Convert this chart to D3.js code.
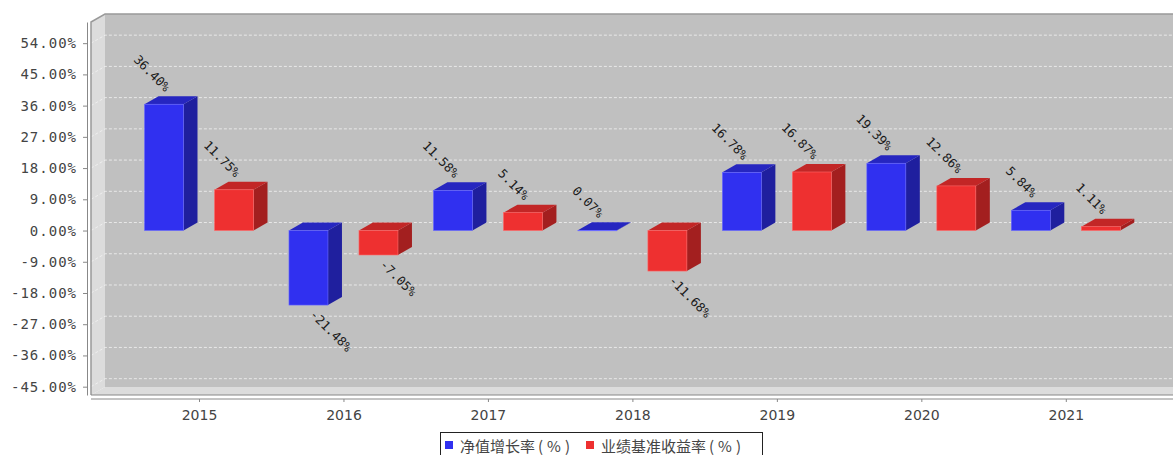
<!DOCTYPE html>
<html>
<head>
<meta charset="utf-8">
<script src="https://cdn.jsdelivr.net/npm/d3@7/dist/d3.min.js"></script>
<style>
  body { margin: 0; background: #fff; }
  svg { display: block; }
</style>
</head>
<body>
<svg id="chart" width="1173" height="455"></svg>
<script>
// Data
const years = ["2015", "2016", "2017", "2018", "2019", "2020", "2021"];
const navGrowth = [36.40, -21.48, 11.58, 0.07, 16.78, 19.39, 5.84];
const benchmark = [11.75, -7.05, 5.14, -11.68, 16.87, 12.86, 1.11];
const yTicks = [-45, -36, -27, -18, -9, 0, 9, 18, 27, 36, 45, 54];
const seriesNames = ["净值增长率", "业绩基准收益率"];
const seriesUnit = "(%)";

// Layout
const frontLeft = 91, frontTop = 22, frontBottom = 395, rightEdge = 1190;
const dx = 14, dy = 8;
const barWidth = 39;
const barOffsets = [-54.5, 15.5];

const colors = [
    { front: "#3030f0", top: "#2626c0", side: "#1f1f9e", edge: "#6a6aff" },
    { front: "#ee3030", top: "#c22626", side: "#a31f1f", edge: "#ff6a6a" }
];

const svg = d3.select("#chart");

const yScale = d3.scaleLinear().domain([-47.4, 60.1]).range([frontBottom, frontTop]);
const xScale = d3.scalePoint().domain(years).range([199, 1065.8]);

// Walls
svg.append("rect")
    .attr("x", frontLeft + dx).attr("y", frontTop - dy)
    .attr("width", rightEdge - frontLeft - dx)
    .attr("height", frontBottom - frontTop)
    .attr("fill", "#c0c0c0");

svg.append("polygon")
    .attr("points", [[frontLeft, frontTop], [frontLeft + dx, frontTop - dy], [frontLeft + dx, frontBottom - dy], [frontLeft, frontBottom]].join(" "))
    .attr("fill", "#dcdcdc");

svg.append("polygon")
    .attr("points", [[frontLeft, frontBottom], [frontLeft + dx, frontBottom - dy], [rightEdge, frontBottom - dy], [rightEdge, frontBottom]].join(" "))
    .attr("fill", "#dcdcdc");

// Gridlines
svg.append("g")
    .selectAll("path")
    .data(yTicks)
    .enter().append("path")
    .attr("d", t => `M${frontLeft},${yScale(t)}L${frontLeft + dx},${yScale(t) - dy}L${rightEdge},${yScale(t) - dy}`)
    .attr("fill", "none")
    .attr("stroke", "#f2f2f2")
    .attr("stroke-width", 0.8)
    .attr("stroke-dasharray", "3,2");

// Outline
svg.append("path")
    .attr("d", `M${frontLeft},${frontBottom}L${frontLeft},${frontTop}L${frontLeft + dx},${frontTop - dy}L${rightEdge},${frontTop - dy}`)
    .attr("fill", "none")
    .attr("stroke", "#999")
    .attr("stroke-width", 1.5);

svg.append("line")
    .attr("x1", frontLeft).attr("x2", rightEdge)
    .attr("y1", frontBottom).attr("y2", frontBottom)
    .attr("stroke", "#888").attr("stroke-width", 1.2);

// Bars
const bars = [];
years.forEach((yr, i) => {
    [navGrowth[i], benchmark[i]].forEach((v, s) => {
        bars.push({ year: yr, value: v, series: s });
    });
});

const barGroups = svg.append("g")
    .selectAll("g")
    .data(bars)
    .enter().append("g");

barGroups.each(function (d) {
    const g = d3.select(this);
    const c = colors[d.series];
    const x0 = xScale(d.year) + barOffsets[d.series];
    const top = Math.min(yScale(d.value), yScale(0));
    const bottom = Math.max(yScale(d.value), yScale(0));
    const x1 = x0 + barWidth;

    g.append("polygon")
        .attr("points", [[x1, top], [x1 + dx, top - dy], [x1 + dx, bottom - dy], [x1, bottom]].join(" "))
        .attr("fill", c.side);

    g.append("polygon")
        .attr("points", [[x0, top], [x0 + dx, top - dy], [x1 + dx, top - dy], [x1, top]].join(" "))
        .attr("fill", c.top);

    g.append("rect")
        .attr("x", x0).attr("y", top)
        .attr("width", barWidth).attr("height", Math.max(bottom - top, 0.5))
        .attr("fill", c.front)
        .attr("stroke", c.edge)
        .attr("stroke-width", 0.6);

    // Item label
    const cx = x0 + barWidth / 2;
    const positive = d.value >= 0;
    const lx = cx + 4;
    const ly = positive ? top - 15 : bottom + 7;
    g.append("text")
        .attr("transform", `translate(${lx},${ly}) rotate(45)`)
        .attr("text-anchor", positive ? "end" : "start")
        .attr("dominant-baseline", "central")
        .attr("font-family", "DejaVu Sans Mono")
        .attr("font-size", 12.5)
        .attr("fill", "#1a1a1a")
        .text(d.value.toFixed(2) + "%");
});

// Y axis
const yAxis = d3.axisLeft(yScale)
    .tickValues(yTicks)
    .tickSizeInner(4)
    .tickSizeOuter(0)
    .tickPadding(6)
    .tickFormat(t => t.toFixed(2) + "%");

const yAxisGroup = svg.append("g")
    .attr("transform", "translate(87,0)")
    .call(yAxis);

yAxisGroup.select(".domain").attr("stroke", "#888");
yAxisGroup.selectAll(".tick line").attr("stroke", "#888");
yAxisGroup.selectAll(".tick text")
    .attr("fill", "#444")
    .attr("font-family", "DejaVu Sans Mono")
    .attr("font-size", 14)
    .attr("letter-spacing", 1);

// X axis
svg.append("line")
    .attr("x1", frontLeft).attr("x2", rightEdge)
    .attr("y1", 399).attr("y2", 399)
    .attr("stroke", "#888");

const xAxis = d3.axisBottom(xScale).tickSizeInner(3).tickSizeOuter(0).tickPadding(8);
const xAxisGroup = svg.append("g")
    .attr("transform", "translate(0,399)")
    .call(xAxis);

xAxisGroup.select(".domain").remove();
xAxisGroup.selectAll(".tick line").attr("stroke", "#888");
xAxisGroup.selectAll(".tick text")
    .attr("fill", "#444")
    .attr("font-family", "DejaVu Sans")
    .attr("font-size", 14);

// Legend
const legend = svg.append("g");
legend.append("rect")
    .attr("x", 440.5).attr("y", 432.5)
    .attr("width", 322).attr("height", 30)
    .attr("fill", "#fff")
    .attr("stroke", "#222");

const legendX = [445, 586];
legend.selectAll(".legend-item")
    .data(seriesNames)
    .enter().append("g")
    .attr("class", "legend-item")
    .attr("transform", (d, i) => `translate(${legendX[i]},441)`)
    .each(function (d, i) {
        d3.select(this).append("rect")
            .attr("width", 8).attr("height", 8)
            .attr("fill", colors[i].front);
        const label = d3.select(this).append("text")
            .attr("x", 15).attr("y", 11)
            .attr("font-family", "Noto Sans CJK SC")
            .attr("font-size", 15)
            .attr("fill", "#444");
        label.append("tspan").text(d);
        label.append("tspan")
            .attr("dx", 3)
            .attr("letter-spacing", 4)
            .text(seriesUnit);
    });
</script>
</body>
</html>
